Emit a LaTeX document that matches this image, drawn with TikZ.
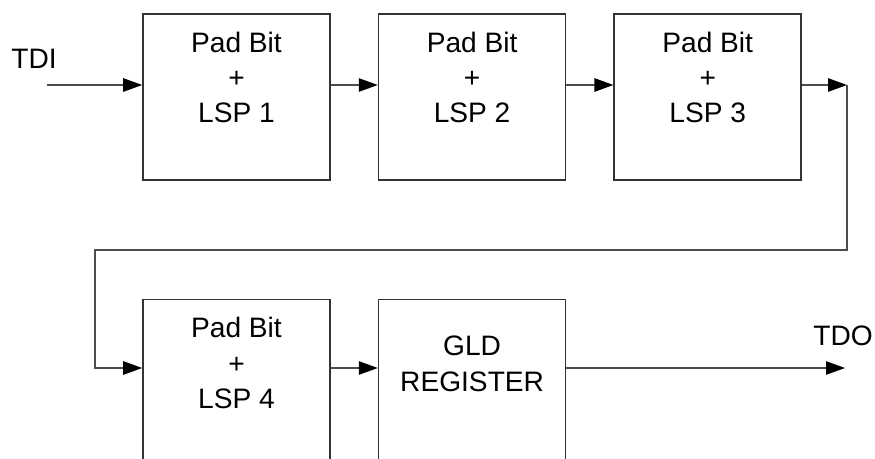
\documentclass[tikz,border=0pt]{standalone}
\usepackage{fontspec}
\setmainfont{Liberation Sans}
\usetikzlibrary{positioning,arrows.meta}
\tikzstyle{block} = [draw=black!80, fill=white, rectangle, line width=1.1pt,
    minimum width=4.675cm, minimum height=4.15cm]
\tikzstyle{input} = [coordinate]
\tikzstyle{output} = [coordinate]
\tikzstyle{wire} = [draw=black!70, line width=1.1pt]
\tikzstyle{boxtext} = [anchor=north, align=center, inner sep=0pt, yshift=-0.46cm]

\begin{document}
\begin{tikzpicture}[x=0.025cm, y=-0.025cm, node distance=1.175cm,
    >={Triangle[length=13.5pt,width=9.5pt,color=black]},
    font=\fontsize{20}{25}\selectfont]
\clip (0,0) rectangle (875,459);
% Nodes
	\node [block] at (236.5,97) (lsp1)
	  [label={[boxtext]north:Pad Bit\\+\\LSP 1}] {};
	\node [block, right=of lsp1] (lsp2)
	  [label={[boxtext]north:Pad Bit\\+\\LSP 2}] {};
	\node [block, right=of lsp2] (lsp3)
	  [label={[boxtext]north:Pad Bit\\+\\LSP 3}] {};
	\node [block, below=2.95cm of lsp1] (lsp4)
	  [label={[boxtext]north:Pad Bit\\+\\LSP 4}] {};
	\node [block, right=of lsp4] (gld)
	  [label={[boxtext, yshift=-0.47cm]north:GLD\\REGISTER}] {};
	\node [input] at (47,85) (tdi) {};
	\node [output] at (845,368) (tdo) {};
	\node [input] at (847,85) (turn1) {};
	\node [input] at (847,250) (turn2) {};
	\node [input] at (95,250) (turn3) {};
% Connections
	\draw [wire, ->] (tdi) -- (tdi -| lsp1.west);
	\draw [wire, ->] (lsp1.east |- tdi) -- (lsp2.west |- tdi);
	\draw [wire, ->] (lsp2.east |- tdi) -- (lsp3.west |- tdi);
	\draw [wire, ->] (lsp3.east |- tdi) -- (turn1);
	\draw [wire, ->] (turn1) -- (turn2) -- (turn3) |- (lsp4.west |- tdo);
	\draw [wire, ->] (lsp4.east |- tdo) -- (gld.west |- tdo);
	\draw [wire, ->] (gld.east |- tdo) -- (tdo);
% Notations
	\node [anchor=base] at (34,69) (tdilabel) {TDI};
	\node [anchor=base] at (843,345) (tdolabel) {TDO};
\end{tikzpicture}
\end{document}
